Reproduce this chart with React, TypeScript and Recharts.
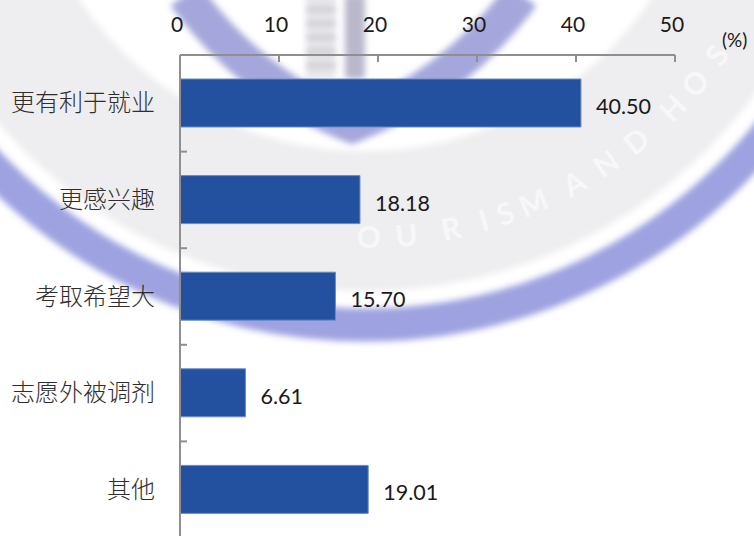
import React from "react";
import { BarChart, Bar, XAxis, YAxis, LabelList } from "recharts";

const categories = ["更有利于就业", "更感兴趣", "考取希望大", "志愿外被调剂", "其他"];
const shares = [40.5, 18.18, 15.7, 6.61, 19.01];
const valueTicks = [0, 10, 20, 30, 40, 50];
const unitLabel = "(%)";
const sealLetters = ["O", "U", "R", "I", "S", "M", "A", "N", "D", "H", "O", "S"];
const sealAngles = [0.5, 5.5, 11.5, 16, 19, 23, 29, 34, 39, 45.5, 50, 54.7];

const rows = categories.map((name, i) => ({ name, share: shares[i] }));

const W = 754;
const H = 536;
const CHART_H = 538;
const TOP = 55;
const LEFT = 180;
const BAND = (CHART_H - TOP) / categories.length;
const AXIS = "#8f8f8f";
const LATIN = "Lato, 'Open Sans', sans-serif";
const CJK = "'Noto Sans CJK SC', sans-serif";
const SEAL_X = 365;
const SEAL_Y = -194;

const ValueTick = (p: any) => (
  <g>
    <line x1={p.x} x2={p.x} y1={p.y} y2={p.y + 7} stroke={AXIS} strokeWidth={2} />
    <text x={p.x - 3} y={p.y - 23} textAnchor="middle" fontFamily={LATIN} fontSize={21} fill="#1a1a1a">
      {p.payload.value}
    </text>
  </g>
);

const CategoryTick = (p: any) => (
  <g>
    {p.index < categories.length - 1 && (
      <line x1={p.x} x2={p.x + 7} y1={p.y + BAND / 2} y2={p.y + BAND / 2} stroke={AXIS} strokeWidth={2} />
    )}
    <text x={p.x - 25} y={p.y + 8} textAnchor="end" fontFamily={CJK} fontSize={24} fontWeight={300} fill="#2e2e2e">
      {p.payload.value}
    </text>
  </g>
);

const ValueLabel = (p: any) => (
  <text
    x={p.x + p.width + 15}
    y={p.y + p.height / 2 + 11}
    fontFamily={LATIN}
    fontSize={21.5}
    fill="#1a1a1a"
  >
    {Number(p.value).toFixed(2)}
  </text>
);

const Seal = () => (
  <svg width={W} height={H} style={{ position: "absolute", left: 0, top: 0 }}>
    <defs>
      <filter id="soft" x="-10%" y="-10%" width="120%" height="120%">
        <feGaussianBlur stdDeviation="3" />
      </filter>
    </defs>
    <g filter="url(#soft)">
      <circle cx={SEAL_X} cy={SEAL_Y} r={415} fill="none" stroke="#eeeef0" strokeWidth={140} />
      <circle cx={SEAL_X} cy={SEAL_Y} r={519} fill="none" stroke="#9ea2e0" strokeWidth={33} />
      <path d="M 185 -5 Q 250 85 352 125 Q 455 85 522 -5" fill="none" stroke="#a5a7dc" strokeWidth={36} strokeLinejoin="miter" />
      <rect x={345} y={-5} width={20} height={84} fill="#b9b8cb" />
      <rect x={306} y={-5} width={30} height={84} fill="#e6e6ea" />
      {[8, 22, 36, 50, 64].map((y) => (
        <rect key={y} x={306} y={y} width={30} height={3} fill="#b5b5bd" />
      ))}
    </g>
    {sealLetters.map((letter, i) => (
      <text
        key={i}
        transform={`translate(${SEAL_X} ${SEAL_Y}) rotate(${-sealAngles[i]}) translate(0 442)`}
        textAnchor="middle"
        fontFamily={LATIN}
        fontSize={30}
        fontWeight={700}
        fill="#ffffff"
        fillOpacity={0.55}
      >
        {letter}
      </text>
    ))}
  </svg>
);

export default function App() {
  return (
    <div style={{ position: "absolute", left: 0, top: 0, width: W, height: H, overflow: "hidden", background: "#fff" }}>
      <Seal />
      <div style={{ position: "absolute", left: 0, top: 0 }}>
        <BarChart
          width={W}
          height={CHART_H}
          data={rows}
          layout="vertical"
          barCategoryGap="50%"
          margin={{ top: 0, right: 79, bottom: 0, left: 0 }}
        >
          <XAxis
            type="number"
            orientation="top"
            domain={[0, 50]}
            ticks={valueTicks}
            height={TOP}
            tickSize={0}
            tickMargin={0}
            tickLine={false}
            axisLine={{ stroke: AXIS, strokeWidth: 2 }}
            tick={<ValueTick />}
            interval={0}
          />
          <YAxis
            type="category"
            dataKey="name"
            width={LEFT}
            tickSize={0}
            tickMargin={0}
            tickLine={false}
            axisLine={{ stroke: AXIS, strokeWidth: 2 }}
            tick={<CategoryTick />}
            interval={0}
          />
          <Bar dataKey="share" fill="#24519f" stroke="#6c8cc4" strokeWidth={1} barSize={48} isAnimationActive={false}>
            <LabelList dataKey="share" content={<ValueLabel />} />
          </Bar>
        </BarChart>
      </div>
      <svg width={W} height={H} style={{ position: "absolute", left: 0, top: 0, pointerEvents: "none" }}>
        <text x={722} y={47} fontFamily={LATIN} fontSize={19} fill="#1a1a1a">{unitLabel}</text>
      </svg>
    </div>
  );
}
